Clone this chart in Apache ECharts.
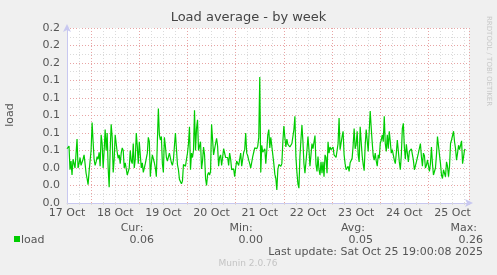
<!DOCTYPE html>
<html>
<head>
<meta charset="utf-8">
<script src="https://cdn.jsdelivr.net/npm/echarts@6/dist/echarts.min.js"></script>
<style>
html,body{margin:0;padding:0;background:#F0F0F0;}
#c{width:497px;height:275px;}
</style>
</head>
<body>
<div id="c"></div>
<script>
// Half-hourly load values, starting 17 Oct 12:00
const loadValues = [
0.062,0.064,0.065,0.038,0.048,0.032,0.050,0.052,0.040,0.056,0.073,0.040,0.045,0.052,0.043,0.044,0.050,0.055,0.045,0.034,
0.028,0.021,0.036,0.037,0.060,0.092,0.070,0.050,0.043,0.047,0.053,0.050,0.058,0.042,0.078,0.068,0.040,0.060,0.084,0.060,
0.080,0.040,0.018,0.060,0.090,0.075,0.035,0.050,0.078,0.080,0.058,0.051,0.055,0.045,0.057,0.063,0.060,0.040,0.046,0.045,
0.032,0.030,0.040,0.060,0.048,0.045,0.068,
0.040,0.050,0.080,0.065,0.045,0.070,0.055,0.040,0.046,0.035,0.040,0.045,0.051,0.057,0.075,0.070,0.030,0.045,0.055,0.054,
0.046,0.040,0.030,0.070,0.108,0.078,0.072,0.076,0.045,0.035,0.075,0.065,0.052,0.048,0.048,0.057,0.056,0.046,0.043,0.049,
0.065,0.080,0.062,0.044,0.038,0.027,0.028,0.022,0.025,0.044,0.045,0.042,0.050,0.057,0.068,0.087,0.038,0.057,0.052,0.060,
0.106,0.060,0.085,0.095,0.060,0.058,0.070,
0.039,0.048,0.064,0.055,0.028,0.020,0.032,0.035,0.032,0.036,0.090,0.091,0.055,0.057,0.068,0.074,0.065,0.042,0.052,0.055,
0.043,0.052,0.062,0.064,0.052,0.052,0.052,0.043,0.057,0.050,0.038,0.040,0.039,0.030,0.040,0.048,0.050,0.043,0.050,0.057,
0.042,0.050,0.058,0.061,0.080,0.057,0.054,0.049,0.045,0.040,0.042,0.053,0.058,0.063,0.063,0.062,0.065,0.075,0.144,0.035,
0.066,0.058,0.056,0.062,0.045,0.060,0.078,0.084,
0.063,0.075,0.075,0.055,0.045,0.033,0.028,0.015,0.038,0.044,0.042,0.042,0.045,0.070,0.088,0.075,0.064,0.073,0.067,0.065,
0.064,0.065,0.068,0.070,0.084,0.099,0.053,0.035,0.022,0.017,0.053,0.072,0.089,0.070,0.045,0.034,0.032,0.060,0.076,0.061,
0.042,0.055,0.068,0.062,0.063,0.077,0.044,0.036,0.053,0.038,0.032,0.047,0.034,0.047,0.030,0.055,0.052,0.034,0.070,0.057,
0.064,0.061,0.060,0.064,0.055,0.054,0.052,0.052,
0.068,0.097,0.061,0.059,0.076,0.082,0.055,0.045,0.038,0.038,0.042,0.036,0.046,0.048,0.051,0.066,0.085,0.062,0.067,0.082,
0.055,0.047,0.087,0.070,0.054,0.044,0.037,0.066,0.084,0.083,0.059,0.082,0.105,0.086,0.069,0.054,0.049,0.057,0.048,0.042,
0.055,0.051,0.068,0.072,0.078,0.070,0.099,0.068,0.059,0.078,0.062,0.082,0.070,0.057,0.061,0.055,0.049,0.045,0.057,0.072,
0.070,0.047,0.038,0.055,0.085,0.091,0.064,
0.050,0.067,0.057,0.047,0.059,0.060,0.062,0.064,0.049,0.038,0.038,0.047,0.047,0.057,0.057,0.068,0.053,0.042,0.057,0.054,
0.040,0.043,0.049,0.043,0.036,0.045,0.064,0.045,0.032,0.030,0.040,0.055,0.076,0.076,0.055,0.045,0.032,0.028,0.038,0.034,
0.030,0.047,0.042,0.030,0.042,0.068,0.072,0.072,0.082,0.070,0.062,0.049,0.057,0.066,0.061,0.059,0.071,0.045,0.053,0.061,
0.061
];
const startHour = 12;      // hours after 17 Oct 00:00
const stepHours = 0.5;
const axisMaxHour = 212.2; // right edge of the time window
const dayLabels = ['17 Oct','18 Oct','19 Oct','20 Oct','21 Oct','22 Oct','23 Oct','24 Oct','25 Oct'];
const yTickLabels = ['0.0','0.0','0.0','0.1','0.1','0.1','0.1','0.1','0.2','0.2','0.2'];
const statHeaders = ['Cur:','Min:','Avg:','Max:'];
const statValues = ['0.06','0.00','0.05','0.26'];
const seriesName = 'load';
const lastUpdate = 'Last update: Sat Oct 25 19:00:08 2025';

const data = loadValues.map((v,i)=>[startHour + i*stepHours, v]);
const FONT = 'DejaVu Sans';
const TXT = '#555555';
const RED = '#e8a4a4';
const GREY = '#dadada';
const AXIS = '#c8c8f0';

const chart = echarts.init(document.getElementById('c'), null, {renderer:'canvas'});

const headerX = [132, 241, 353, 477];
const headerAlign = ['center','center','center','right'];
const valueX = [154, 263, 373, 483];
const graphics = [
  {type:'text', left:'center', top:11, style:{text:'Load average - by week', font:'13px "'+FONT+'"', fill:'#444'}},
  {type:'text', x:10, y:115, rotation:Math.PI/2, originX:0, originY:0, style:{text:'load', font:'11px "'+FONT+'"', fill:TXT, align:'center', verticalAlign:'middle'}},
  {type:'text', x:489, y:16, rotation:-Math.PI/2, style:{text:'RRDTOOL / TOBI OETIKER', font:'7px "'+FONT+'"', fill:'#c8c8c8', align:'left', verticalAlign:'middle'}},
  {type:'rect', shape:{x:14, y:236, width:6, height:6}, style:{fill:'#00CC00'}},
  {type:'text', x:21, y:240, style:{text:seriesName, font:'11px "'+FONT+'"', fill:TXT, verticalAlign:'middle'}},
  {type:'text', x:483, y:252, style:{text:lastUpdate, font:'11px "'+FONT+'"', fill:TXT, align:'right', verticalAlign:'middle'}},
  {type:'text', x:248, y:264, style:{text:'Munin 2.0.76', font:'9px "'+FONT+'"', fill:'#c4c4c4', align:'center', verticalAlign:'middle'}}
];
statHeaders.forEach((h,i)=>{
  graphics.push({type:'text', x:headerX[i], y:228, style:{text:h, font:'11px "'+FONT+'"', fill:TXT, align:headerAlign[i], verticalAlign:'middle'}});
  graphics.push({type:'text', x:valueX[i], y:240, style:{text:statValues[i], font:'11px "'+FONT+'"', fill:TXT, align:'right', verticalAlign:'middle'}});
});

chart.setOption({
  backgroundColor:'#F0F0F0',
  animation:false,
  grid:{left:67, right:28, top:28, bottom:72, show:true, backgroundColor:'#FFFFFF', borderWidth:0},
  xAxis:[
    {type:'value', min:startHour, max:axisMaxHour, interval:24,
     axisLine:{show:true, lineStyle:{color:AXIS, width:1}, symbol:['none','arrow'], symbolSize:[6,8], symbolOffset:[0,4]},
     axisTick:{show:false}, splitLine:{show:false},
     axisLabel:{color:TXT, fontFamily:FONT, fontSize:11, margin:5, showMaxLabel:false,
       formatter:(v)=>dayLabels[Math.round((v-startHour)/24)] || ''}},
    {type:'value', min:startHour, max:axisMaxHour, interval:6, position:'bottom',
     axisLine:{show:false}, axisLabel:{show:false},
     axisTick:{show:true, inside:false, length:2, lineStyle:{color:GREY}},
     splitLine:{show:true, lineStyle:{color:[GREY, GREY, RED, GREY], type:[1,2], width:1}}}
  ],
  yAxis:[
    {type:'value', min:0, max:0.2, interval:0.02,
     axisLine:{show:true, lineStyle:{color:AXIS, width:1}, symbol:['none','arrow'], symbolSize:[6,8], symbolOffset:[0,4]},
     axisTick:{show:false},
     axisLabel:{color:TXT, fontFamily:FONT, fontSize:11, margin:7,
       formatter:(v)=>yTickLabels[Math.round(v/0.02)]},
     splitLine:{show:true, lineStyle:{color:RED, type:[1,2], width:1}},
     minorTick:{show:false, splitNumber:2},
     minorSplitLine:{show:true, lineStyle:{color:GREY, type:[1,2], width:1}}}
  ],
  series:[{
    type:'line', name:seriesName, xAxisIndex:0, yAxisIndex:0, data:data,
    showSymbol:false, symbol:'none', lineStyle:{color:'#00CC00', width:1.2}, z:5
  }],
  graphic:graphics
});
</script>
</body>
</html>
